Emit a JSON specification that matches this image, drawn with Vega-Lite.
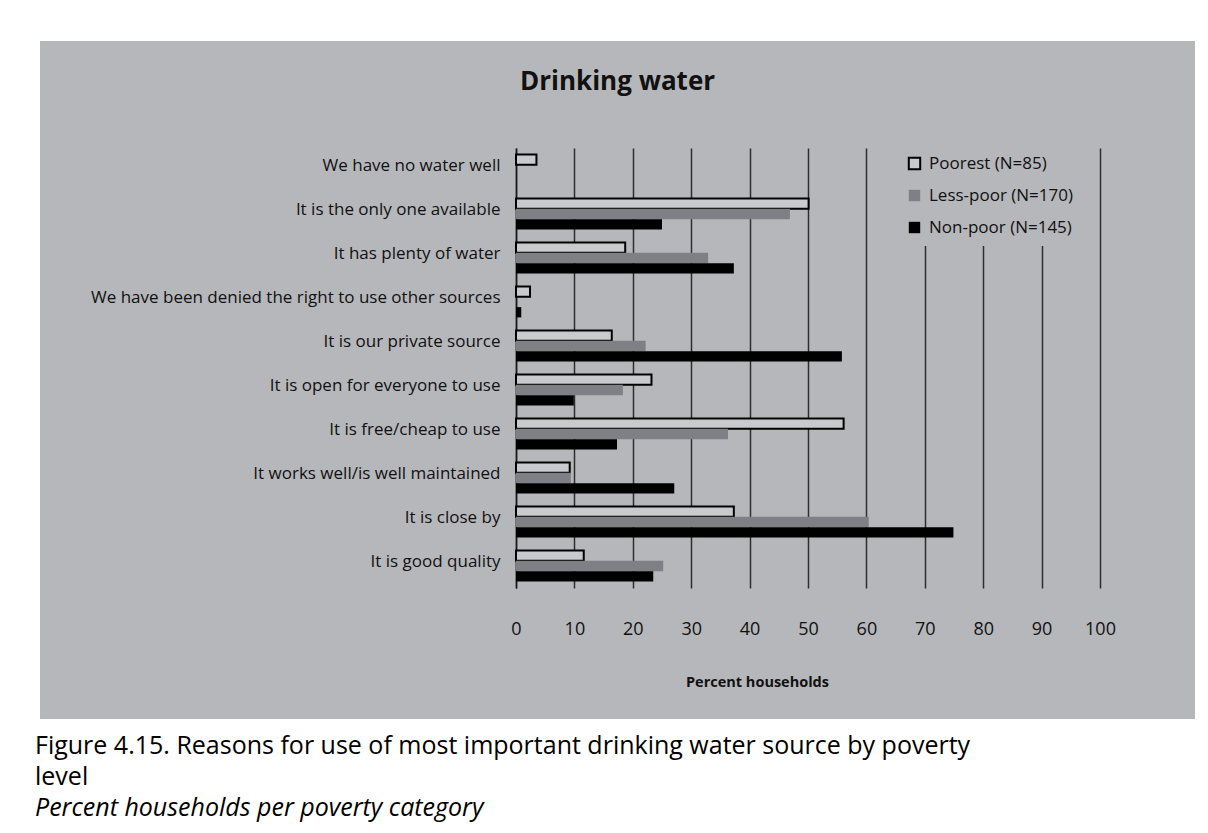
{
  "$schema": "https://vega.github.io/schema/vega-lite/v6.json",
  "background": "white",
  "padding": {"left": 35, "top": 41, "right": 13, "bottom": 20},
  "autosize": {"type": "pad"},
  "config": {"font": "Open Sans", "view": {"stroke": null}},
  "title": {
    "text": ["Figure 4.15. Reasons for use of most important drinking water source by poverty", "level"],
    "subtitle": "Percent households per poverty category",
    "orient": "bottom",
    "anchor": "start",
    "frame": "group",
    "font": "Open Sans",
    "fontSize": 25,
    "fontWeight": "normal",
    "color": "#000000",
    "lineHeight": 31,
    "subtitleFont": "Open Sans",
    "subtitleFontSize": 25,
    "subtitleFontStyle": "italic",
    "subtitleColor": "#000000",
    "subtitleLineHeight": 31,
    "subtitlePadding": 6,
    "offset": 15,
    "dx": -5
  },
  "vconcat": [
    {
      "width": 1155,
      "height": 678,
      "view": {"fill": "#b6b7bb", "stroke": null},
      "title": {
        "text": "Drinking water",
        "font": "Open Sans",
        "fontSize": 26,
        "fontWeight": "bold",
        "color": "#111111",
        "anchor": "middle",
        "baseline": "alphabetic",
        "offset": -75
      },
      "data": {
        "values": [
          {"reason": "We have no water well", "group": "Poorest (N=85)", "value": 3.5},
          {"reason": "We have no water well", "group": "Less-poor (N=170)", "value": 0},
          {"reason": "We have no water well", "group": "Non-poor (N=145)", "value": 0},
          {"reason": "It is the only one available", "group": "Poorest (N=85)", "value": 50.1},
          {"reason": "It is the only one available", "group": "Less-poor (N=170)", "value": 46.9},
          {"reason": "It is the only one available", "group": "Non-poor (N=145)", "value": 25.0},
          {"reason": "It has plenty of water", "group": "Poorest (N=85)", "value": 18.7},
          {"reason": "It has plenty of water", "group": "Less-poor (N=170)", "value": 32.9},
          {"reason": "It has plenty of water", "group": "Non-poor (N=145)", "value": 37.3},
          {"reason": "We have been denied the right to use other sources", "group": "Poorest (N=85)", "value": 2.4},
          {"reason": "We have been denied the right to use other sources", "group": "Less-poor (N=170)", "value": 0},
          {"reason": "We have been denied the right to use other sources", "group": "Non-poor (N=145)", "value": 0.9},
          {"reason": "It is our private source", "group": "Poorest (N=85)", "value": 16.4},
          {"reason": "It is our private source", "group": "Less-poor (N=170)", "value": 22.2},
          {"reason": "It is our private source", "group": "Non-poor (N=145)", "value": 55.8},
          {"reason": "It is open for everyone to use", "group": "Poorest (N=85)", "value": 23.2},
          {"reason": "It is open for everyone to use", "group": "Less-poor (N=170)", "value": 18.3},
          {"reason": "It is open for everyone to use", "group": "Non-poor (N=145)", "value": 9.9},
          {"reason": "It is free/cheap to use", "group": "Poorest (N=85)", "value": 56.1},
          {"reason": "It is free/cheap to use", "group": "Less-poor (N=170)", "value": 36.3},
          {"reason": "It is free/cheap to use", "group": "Non-poor (N=145)", "value": 17.3},
          {"reason": "It works well/is well maintained", "group": "Poorest (N=85)", "value": 9.2},
          {"reason": "It works well/is well maintained", "group": "Less-poor (N=170)", "value": 9.4},
          {"reason": "It works well/is well maintained", "group": "Non-poor (N=145)", "value": 27.1},
          {"reason": "It is close by", "group": "Poorest (N=85)", "value": 37.3},
          {"reason": "It is close by", "group": "Less-poor (N=170)", "value": 60.4},
          {"reason": "It is close by", "group": "Non-poor (N=145)", "value": 74.9},
          {"reason": "It is good quality", "group": "Poorest (N=85)", "value": 11.6},
          {"reason": "It is good quality", "group": "Less-poor (N=170)", "value": 25.2},
          {"reason": "It is good quality", "group": "Non-poor (N=145)", "value": 23.5}
        ]
      },
      "mark": {"type": "bar", "strokeWidth": 2},
      "encoding": {
        "y": {
          "field": "reason",
          "type": "nominal",
          "sort": ["We have no water well", "It is the only one available", "It has plenty of water", "We have been denied the right to use other sources", "It is our private source", "It is open for everyone to use", "It is free/cheap to use", "It works well/is well maintained", "It is close by", "It is good quality"],
          "scale": {"range": [107, 547], "paddingInner": 0.3, "paddingOuter": 0.15},
          "axis": {
            "title": null,
            "orient": "left",
            "offset": -476,
            "domain": true,
            "domainColor": "#1a1a1a",
            "domainWidth": 1.5,
            "ticks": false,
            "tickSize": 0,
            "grid": false,
            "labelFont": "Open Sans",
            "labelFontSize": 17,
            "labelColor": "#111111",
            "labelPadding": 16,
            "labelLimit": 700,
            "labelOffset": -4
          }
        },
        "yOffset": {
          "field": "group",
          "type": "nominal",
          "sort": ["Poorest (N=85)", "Less-poor (N=170)", "Non-poor (N=145)"],
          "scale": {"paddingInner": 0, "paddingOuter": 0}
        },
        "x": {
          "field": "value",
          "type": "quantitative",
          "scale": {"domain": [0, 100], "range": [476, 1060], "nice": false, "zero": true},
          "axis": {
            "title": "Percent households",
            "orient": "top",
            "offset": -547,
            "values": [0, 10, 20, 30, 40, 50, 60, 70, 80, 90, 100],
            "domain": false,
            "ticks": false,
            "tickSize": 0,
            "grid": true,
            "gridColor": "#2e2e2e",
            "gridWidth": 1.5,
            "labelFont": "Open Sans",
            "labelFontSize": 18,
            "labelColor": "#111111",
            "labelBaseline": "middle",
            "labelPadding": -41,
            "labelFlush": false,
            "titleFont": "Open Sans",
            "titleFontSize": 14.5,
            "titleFontWeight": "bold",
            "titleColor": "#111111",
            "titleBaseline": "middle",
            "titleAlign": "center",
            "titleX": 717,
            "titleY": 94
          }
        },
        "fill": {
          "field": "group",
          "type": "nominal",
          "scale": {"domain": ["Poorest (N=85)", "Less-poor (N=170)", "Non-poor (N=145)"], "range": ["#c9cacd", "#7f8085", "#000000"]},
          "legend": {
            "orient": "none",
            "legendX": 858,
            "legendY": 106,
            "title": null,
            "fillColor": "#b6b7bb",
            "padding": 8,
            "symbolType": "square",
            "symbolSize": 130,
            "symbolStrokeWidth": 2,
            "labelFont": "Open Sans",
            "labelFontSize": 17,
            "labelColor": "#111111",
            "labelLimit": 300,
            "labelOffset": 6,
            "rowPadding": 11
          }
        },
        "stroke": {
          "field": "group",
          "type": "nominal",
          "scale": {"domain": ["Poorest (N=85)", "Less-poor (N=170)", "Non-poor (N=145)"], "range": ["#000000", "transparent", "transparent"]},
          "legend": {
            "orient": "none",
            "legendX": 858,
            "legendY": 106,
            "title": null,
            "fillColor": "#b6b7bb",
            "padding": 8,
            "symbolType": "square",
            "symbolSize": 130,
            "symbolStrokeWidth": 2,
            "labelFont": "Open Sans",
            "labelFontSize": 17,
            "labelColor": "#111111",
            "labelLimit": 300,
            "labelOffset": 6,
            "rowPadding": 11
          }
        }
      }
    }
  ]
}
